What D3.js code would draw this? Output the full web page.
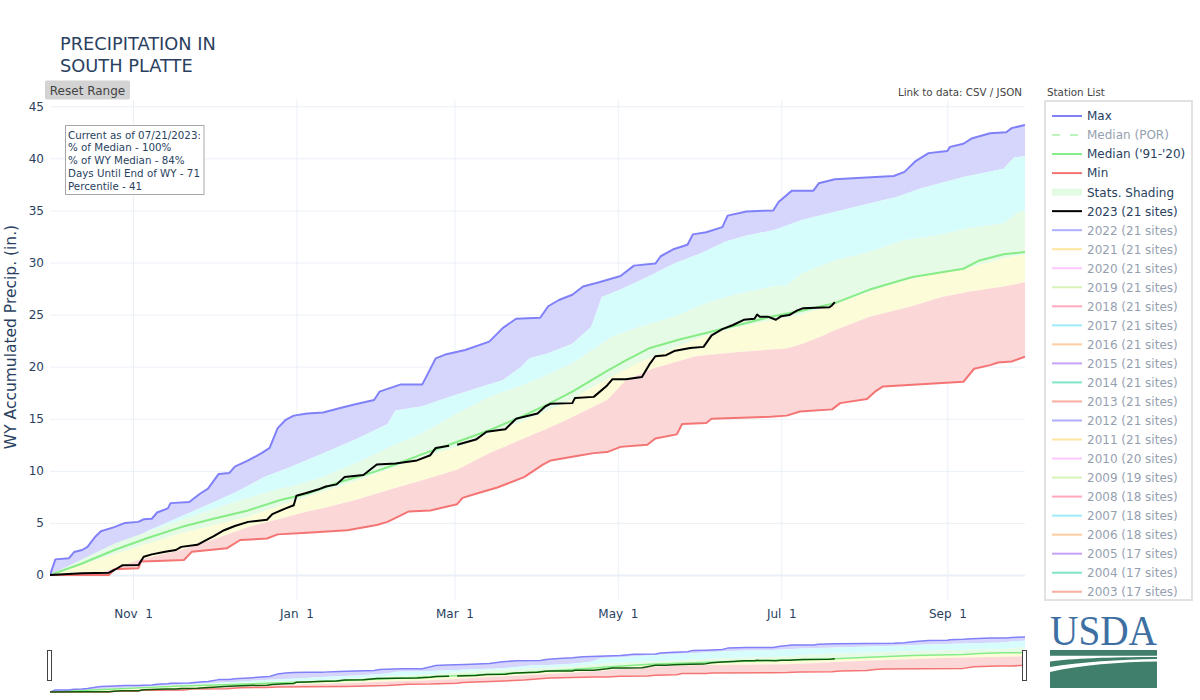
<!DOCTYPE html>
<html>
<head>
<meta charset="utf-8">
<script src="https://cdn.jsdelivr.net/npm/d3@7"></script>
<style>
  body { margin: 0; background: #fff; }
  svg text { font-family: "DejaVu Sans", Verdana, sans-serif; }
</style>
</head>
<body>
<svg width="1200" height="700"></svg>
<script>
// [days since Oct 1, accumulated inches]
const maxSeries = [[0,0],[2,1.5],[7,1.6],[9,2.2],[12,2.4],[14,2.7],[17,3.7],[19,4.2],[24,4.6],[28,5.0],[33,5.1],[35,5.35],[38,5.4],[40,6.0],[44,6.4],[45,6.9],[52,7.0],[56,7.8],[59,8.3],[63,9.7],[67,9.8],[69,10.4],[74,11.0],[79,11.7],[82,12.2],[85,14.1],[88,14.9],[91,15.3],[96,15.5],[102,15.6],[108,16.0],[114,16.4],[121,16.8],[123,17.6],[131,18.3],[139,18.3],[144,20.8],[148,21.2],[155,21.6],[164,22.4],[169,23.7],[174,24.6],[183,24.7],[186,25.8],[190,26.4],[195,26.9],[199,27.7],[205,28.1],[213,28.7],[218,29.7],[226,29.9],[228,30.6],[233,31.3],[238,31.7],[240,32.7],[245,32.9],[251,33.4],[253,34.5],[260,34.9],[270,35.0],[272,35.8],[277,36.9],[285,36.9],[287,37.6],[293,38.0],[315,38.3],[319,38.7],[323,39.7],[328,40.5],[335,40.7],[336,41.1],[341,41.4],[344,41.9],[351,42.4],[357,42.5],[359,42.9],[364,43.2]];
const p90Series = [[0,0],[10,0.9],[18,1.75],[37,4.3],[54,6.2],[69,7.9],[80,9.4],[90,10.4],[102,11.7],[114,13.0],[126,14.5],[129,15.8],[139,16.2],[149,17.1],[159,17.9],[169,18.7],[176,20.0],[179,20.8],[186,21.3],[195,22.2],[202,23.8],[206,26.7],[213,27.4],[223,28.6],[233,29.9],[243,30.9],[252,32.0],[260,32.6],[270,33.1],[281,34.1],[287,34.5],[300,35.3],[316,36.3],[325,37.1],[341,38.2],[356,39.0],[360,40.1],[364,40.2]];
const p70Series = [[0,0],[24,3.0],[49,5.3],[70,7.1],[86,8.3],[90,8.5],[102,9.4],[114,10.7],[127,12.3],[139,13.6],[152,15.5],[164,17.1],[176,18.2],[184,19.0],[195,20.3],[210,22.9],[220,23.8],[233,24.8],[245,26.1],[257,27.0],[270,27.7],[275,27.8],[281,29.0],[293,30.2],[306,31.0],[318,32.1],[331,32.6],[343,33.3],[356,33.75],[362,34.9],[364,35.0]];
const p50Series = [[0,0],[24,2.0],[49,4.0],[74,5.6],[90,7.0],[114,9.0],[139,11.3],[152,12.3],[164,13.6],[176,14.7],[186,15.8],[195,16.9],[208,18.8],[220,20.4],[233,21.8],[245,23.0],[257,23.8],[269,24.4],[281,25.0],[293,26.0],[306,27.2],[318,28.2],[331,29.0],[343,29.5],[356,30.4],[364,30.8]];
const p30Series = [[0,0],[20,0.3],[33,1.44],[49,2.4],[61,3.4],[74,4.6],[86,5.4],[96,6.1],[102,6.4],[114,7.2],[127,8.2],[139,9.1],[152,10.1],[164,11.7],[176,13.0],[186,14.1],[193,14.9],[208,16.8],[215,18.7],[225,19.8],[241,21.0],[257,21.4],[275,21.75],[281,22.2],[287,22.8],[293,23.5],[306,24.8],[321,25.75],[333,26.7],[343,27.2],[356,27.7],[364,28.1]];
const minSeries = [[0,0],[22,0],[24,0.55],[33,0.64],[34,1.3],[40,1.35],[50,1.44],[53,2.24],[66,2.56],[71,3.36],[81,3.5],[85,3.9],[96,4.06],[111,4.3],[122,4.8],[126,5.1],[134,6.1],[142,6.2],[152,6.8],[154,7.4],[159,7.8],[167,8.4],[177,9.4],[184,10.6],[187,11.0],[195,11.35],[203,11.7],[208,11.8],[213,12.3],[223,12.5],[226,13.1],[234,13.5],[236,14.5],[245,14.6],[247,15.0],[269,15.2],[275,15.3],[280,15.7],[292,15.9],[295,16.5],[305,16.9],[308,17.6],[311,18.1],[341,18.55],[345,19.8],[351,20.15],[354,20.4],[359,20.5],[364,20.95]];
const medianSeries = [[0,0],[12,1.1],[24,2.4],[37,3.6],[49,4.6],[61,5.4],[74,6.2],[86,7.2],[96,7.8],[108,8.9],[121,9.9],[130,10.7],[139,11.6],[149,12.5],[164,13.9],[176,15.2],[186,16.4],[195,17.6],[208,19.6],[215,20.6],[224,21.8],[235,22.6],[249,23.5],[260,24.2],[269,24.8],[281,25.4],[293,26.1],[306,27.4],[322,28.6],[341,29.4],[347,30.2],[356,30.8],[364,31.0]];
const wy2023 = [[0,0],[12,0.16],[22,0.22],[24,0.48],[27,0.93],[33,0.96],[35,1.76],[38,1.98],[43,2.24],[47,2.4],[49,2.7],[55,2.9],[59,3.45],[61,3.7],[65,4.3],[69,4.7],[74,5.1],[81,5.3],[83,5.85],[88,6.4],[91,6.7],[92,7.6],[96,7.9],[100,8.2],[103,8.5],[107,8.7],[110,9.4],[117,9.6],[122,10.6],[129,10.7],[137,11.0],[142,11.5],[144,12.2],[149,12.4],[150,null],[152,12.5],[159,13.0],[163,13.75],[170,14.0],[174,15.0],[182,15.5],[185,16.2],[187,16.45],[195,16.5],[196,17.0],[203,17.1],[208,18.2],[210,18.8],[215,18.8],[221,19.0],[224,20.3],[226,21.0],[230,21.1],[233,21.5],[239,21.8],[244,21.9],[247,23.0],[251,23.6],[255,24.0],[259,24.5],[263,24.6],[264,25.0],[265,24.8],[268,24.8],[271,24.5],[273,24.85],[276,24.95],[279,25.4],[281,25.6],[291,25.7],[292,25.9],[293,26.2]];

const yTicks = [0,5,10,15,20,25,30,35,40,45];
const xTickDays = [31,92,151,212,273,335]; // Nov 1, Jan 1, Mar 1, May 1, Jul 1, Sep 1
const infoLines = ["Current as of 07/21/2023:","% of Median - 100%","% of WY Median - 84%","Days Until End of WY - 71","Percentile - 41"];
const pastYears = [2022,2021,2020,2019,2018,2017,2016,2015,2014,2013,2012,2011,2010,2009,2008,2007,2006,2005,2004,2003];
const pastSites = [21,21,21,21,21,21,21,21,21,21,21,21,20,19,18,18,18,17,17,17];
const pastColors = ["#5f5fff","#ffcd41","#ff91ff","#afeb73","#ff557d","#41d7f5","#ff9b41","#914bf5","#05cd91","#f55f41"];

const svg = d3.select("svg");
const t0 = Date.UTC(2022, 9, 1);
const toDate = (d) => new Date(t0 + d * 864e5);

const x = d3.scaleUtc().domain([toDate(0), toDate(364)]).range([50, 1025]);
const y = d3.scaleLinear().domain([-2.4, 45.6]).range([600, 100]);
const ySlider = d3.scaleLinear().domain([-2.4, 45.6]).range([695, 634]);

const colors = {max: "#8080f8", min: "#f47474", median: "#86ec86", now: "#000"};
const bands = [
  [maxSeries, p90Series, "#d6d6fd"],
  [p90Series, p70Series, "#d6fcfc"],
  [p70Series, p50Series, "#e6fbe6"],
  [p50Series, p30Series, "#fcfcd8"],
  [p30Series, minSeries, "#fcd7d7"]
];

// grid + axes
const gy = svg.append("g")
  .attr("transform", "translate(50,0)")
  .call(d3.axisLeft(y).tickValues(yTicks).tickSize(-975).tickPadding(6));
const gx = svg.append("g")
  .attr("transform", "translate(0,600)")
  .call(d3.axisBottom(x).tickValues(xTickDays.map(toDate)).tickSize(-500).tickPadding(9)
    .tickFormat(d3.utcFormat("%b %e")));
[gx, gy].forEach((g) => {
  g.select(".domain").remove();
  g.selectAll(".tick line").attr("stroke", "#ebf0f8");
  g.selectAll(".tick text").attr("fill", "#2a3f5f").style("font-size", "12px")
    .style("font-family", "'DejaVu Sans', Verdana, sans-serif").style("white-space", "pre");
});
gy.selectAll(".tick").filter((d) => d === 0).select("line").attr("stroke-width", 2);

svg.append("defs").call((defs) => {
  defs.append("clipPath").attr("id", "plotclip")
    .append("rect").attr("x", 50).attr("y", 100).attr("width", 975).attr("height", 500);
  defs.append("clipPath").attr("id", "sliderclip")
    .append("rect").attr("x", 50).attr("y", 634).attr("width", 975).attr("height", 61);
});

function drawSeries(g, ys, lw, nowColor) {
  const line = d3.line()
    .defined((p) => p[1] != null)
    .x((p) => x(toDate(p[0])))
    .y((p) => ys(p[1]));
  bands.forEach(([upper, lower, fill]) => {
    g.append("path")
      .attr("d", line(upper.concat(lower.slice().reverse())) + "Z")
      .attr("fill", fill);
  });
  [[medianSeries, colors.median], [maxSeries, colors.max], [minSeries, colors.min], [wy2023, nowColor]]
    .forEach(([s, c]) => {
      g.append("path").attr("d", line(s)).attr("fill", "none")
        .attr("stroke", c).attr("stroke-width", lw).attr("stroke-linejoin", "round");
    });
}

drawSeries(svg.append("g").attr("clip-path", "url(#plotclip)"), y, 2, colors.now);
drawSeries(svg.append("g").attr("clip-path", "url(#sliderclip)"), ySlider, 1.5, "#0d5a0d");

// range slider handles
[47.5, 1022.5].forEach((hx) => {
  svg.append("rect").attr("x", hx).attr("y", 650.5).attr("width", 4).attr("height", 30)
    .attr("fill", "#fff").attr("stroke", "#444").attr("stroke-width", 1);
});

// title
[["PRECIPITATION IN", 49.5], ["SOUTH PLATTE", 71.8]].forEach(([t, ty]) => {
  svg.append("text").attr("x", 60).attr("y", ty).attr("fill", "#2a3f5f")
    .style("font-size", "17.8px").text(t);
});

// reset button
svg.append("rect").attr("x", 45).attr("y", 80.5).attr("width", 85).attr("height", 19).attr("rx", 2)
  .attr("fill", "#d3d3d3");
svg.append("text").attr("x", 87.5).attr("y", 94.5).attr("text-anchor", "middle")
  .attr("fill", "#444").style("font-size", "12px").text("Reset Range");

// y axis title
svg.append("text").attr("transform", "translate(15.5,337) rotate(-90)")
  .attr("text-anchor", "middle").attr("fill", "#2a3f5f").style("font-size", "15.5px")
  .text("WY Accumulated Precip. (in.)");

// info box
svg.append("rect").attr("x", 65.5).attr("y", 125.5).attr("width", 138.5).attr("height", 69)
  .attr("fill", "#fff").attr("stroke", "#a8a8a8").attr("stroke-width", 1);
svg.append("g").selectAll("text").data(infoLines).join("text")
  .attr("x", 68).attr("y", (d, i) => 138.5 + i * 12.8)
  .attr("fill", "#2a3f5f").style("font-size", "10.3px").text((d) => d);

// links + legend title
svg.append("text").attr("x", 1022).attr("y", 96).attr("text-anchor", "end")
  .attr("fill", "#444").style("font-size", "10.3px").text("Link to data: CSV / JSON");
svg.append("text").attr("x", 1047).attr("y", 96).attr("fill", "#444")
  .style("font-size", "10.3px").text("Station List");

// legend
const legendItems = [
  {name: "Max", color: colors.max},
  {name: "Median (POR)", color: "#7ee87e", dash: "8,10", hidden: true},
  {name: "Median ('91-'20)", color: colors.median},
  {name: "Min", color: colors.min},
  {name: "Stats. Shading", color: "#e3fbe3", shade: true},
  {name: "2023 (21 sites)", color: colors.now}
].concat(pastYears.map((yr, i) => ({
  name: `${yr} (${pastSites[i]} sites)`, color: pastColors[i % 10], hidden: true
})));

svg.append("rect").attr("x", 1045).attr("y", 101).attr("width", 147).attr("height", 499)
  .attr("fill", "#fff").attr("stroke", "#e2e2e2").attr("stroke-width", 2);
const li = svg.append("g").selectAll("g").data(legendItems).join("g")
  .attr("transform", (d, i) => `translate(0,${116 + i * 19.03})`)
  .attr("opacity", (d) => d.hidden ? 0.5 : 1);
li.each(function (d) {
  const g = d3.select(this);
  if (d.shade) {
    g.append("rect").attr("x", 1052).attr("y", -3.5).attr("width", 30).attr("height", 7).attr("fill", d.color);
  } else {
    g.append("line").attr("x1", 1052).attr("x2", 1082).attr("stroke", d.color)
      .attr("stroke-width", 2).attr("stroke-dasharray", d.dash || null);
  }
  g.append("text").attr("x", 1087).attr("y", 4.4).attr("fill", "#2a3f5f")
    .style("font-size", "12px").text(d.name);
});

// USDA logo
svg.append("text").attr("x", 1050).attr("y", 645).attr("fill", "#3d6fa3")
  .attr("textLength", 107).attr("lengthAdjust", "spacingAndGlyphs")
  .style("font-family", "'Liberation Serif', serif")
  .style("font-size", "42px").text("USDA");
svg.append("rect").attr("x", 1050).attr("y", 650).attr("width", 107).attr("height", 38).attr("fill", "#3f7f6b");
svg.append("path").attr("fill", "#fff")
  .attr("d", "M1050,655.8 L1157,655.8 L1157,657 C1110,657 1070,658.5 1050,661.5 Z");
svg.append("path").attr("fill", "#fff")
  .attr("d", "M1050,667 C1080,662 1120,659.5 1157,659 L1157,661.5 C1120,662 1080,665 1050,672 Z");
</script>
</body>
</html>
